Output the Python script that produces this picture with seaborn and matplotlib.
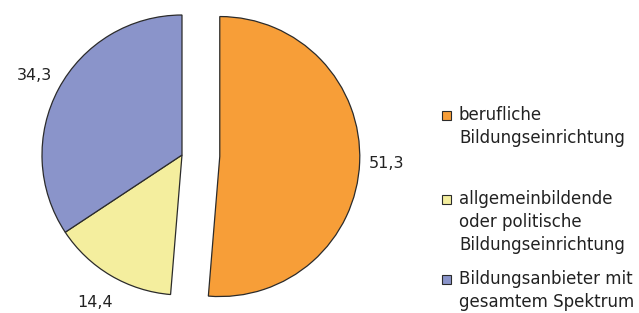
import numpy as np
import matplotlib
matplotlib.use("Agg")
import matplotlib.pyplot as plt
import seaborn as sns
from matplotlib.patches import Rectangle

sns.set_theme(style="white")
plt.rcParams['font.family'] = ['DejaVu Sans']

# ---- data ----
categories = ["berufliche\nBildungseinrichtung",
              "allgemeinbildende\noder politische\nBildungseinrichtung",
              "Bildungsanbieter mit\ngesamtem Spektrum"]
values = [51.3, 14.4, 34.3]
value_labels = ["51,3", "14,4", "34,3"]
colors = ["#F79E38", "#F4EE9E", "#8A94CA"]

W, H, DPI = 639, 313, 100
fig = plt.figure(figsize=(W / DPI, H / DPI), dpi=DPI)
ax = fig.add_axes([0, 0, 1, 1])

R_PX = 140.0
CX, CY = 182.0, 155.0

wedges, _ = ax.pie(values, colors=colors, startangle=90, counterclock=False,
                   explode=[0.27, 0, 0], radius=1.0,
                   wedgeprops=dict(edgecolor="#2b2b2b", linewidth=0.9))

# axis limits so that 1 data unit = R_PX pixels, pie centre at (CX, CY)
ax.set_xlim(-CX / R_PX, (W - CX) / R_PX)
ax.set_ylim(-(H - CY) / R_PX, CY / R_PX)
ax.set_aspect('auto')
ax.axis('off')

label_dist = [1.19, 1.22, 1.20]
for w, lab, d in zip(wedges, value_labels, label_dist):
    ang = np.deg2rad((w.theta1 + w.theta2) / 2)
    cx, cy = w.center
    ax.text(cx + d * np.cos(ang), cy + d * np.sin(ang), lab,
            ha='center', va='center', fontsize=11.5, color='#222222')

# manual legend (pixel layout)
first_baselines = [120, 204, 284]
line_step = 23
for cat, col, yb in zip(categories, colors, first_baselines):
    sq = 9
    fig.patches.append(Rectangle((442 / W, 1 - yb / H), sq / W, sq / H,
                                 transform=fig.transFigure, facecolor=col,
                                 edgecolor="#2b2b2b", linewidth=0.8))
    for i, line in enumerate(cat.split("\n")):
        fig.text(459 / W, 1 - (yb + i * line_step) / H, line, ha='left',
                 va='baseline', fontsize=12, color='#222222')

fig.savefig("out.png", dpi=DPI, facecolor='white')
